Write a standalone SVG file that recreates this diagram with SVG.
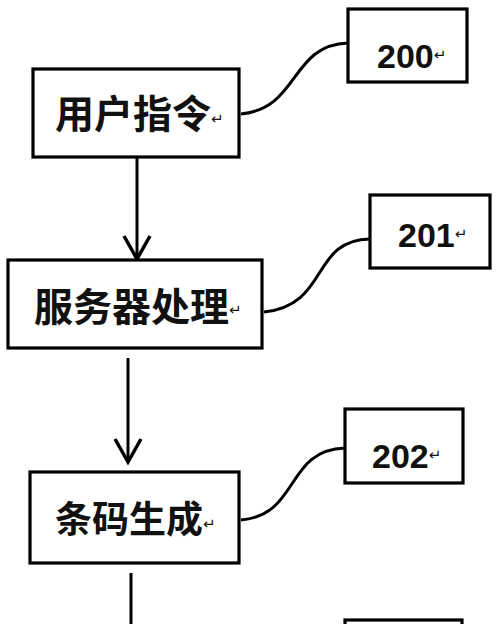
<svg xmlns="http://www.w3.org/2000/svg" width="500" height="624" viewBox="0 0 500 624">
<defs>
<style>
.box{fill:#fff;stroke:#000;stroke-width:3.2}
.cn{font-family:"Noto Sans CJK SC","Noto Sans",sans-serif;font-weight:bold;fill:#111}
.num{font-family:"Liberation Sans",Arial,sans-serif;font-weight:bold;font-size:34px;fill:#111}
.rt{font-family:"DejaVu Sans",sans-serif;font-weight:normal;font-size:15px}
.ln{fill:none;stroke:#000;stroke-width:3}
</style>
<marker id="v" markerUnits="userSpaceOnUse" viewBox="-25 -15 30 30" refX="0" refY="0" markerWidth="30" markerHeight="30" orient="auto" overflow="visible">
<path d="M-23,-13 L0,0 L-23,13" fill="none" stroke="#000" stroke-width="3.5"/>
</marker>
</defs>
<rect width="500" height="624" fill="#fff"/>
<g id="connectors">
<line class="ln" x1="137" y1="157" x2="137" y2="259" marker-end="url(#v)"/>
<line class="ln" x1="128" y1="358" x2="128" y2="462" marker-end="url(#v)"/>
<line class="ln" x1="131" y1="573" x2="131" y2="624"/>
<path class="ln" d="M241,114 C300,108 290,45 348,43"/>
<path class="ln" d="M264,312 C330,305 310,240 370,239"/>
<path class="ln" d="M241,520 C300,515 285,450 345,448"/>
</g>
<g id="n1">
<rect class="box" x="33" y="69" width="206" height="88"/>
<text class="cn" x="55" y="128" font-size="39">用户指令<tspan class="rt" dy="-4">↵</tspan></text>
</g>
<g id="n200">
<rect class="box" x="348" y="9" width="119" height="73"/>
<text class="num" x="377" y="68">200<tspan class="rt" dy="-8">↵</tspan></text>
</g>
<g id="n2">
<rect class="box" x="8" y="260" width="254" height="88"/>
<text class="cn" x="34" y="321" font-size="39">服务器处理<tspan class="rt" dy="-6">↵</tspan></text>
</g>
<g id="n201">
<rect class="box" x="370" y="195" width="120" height="73"/>
<text class="num" x="398" y="247">201<tspan class="rt" dy="-8">↵</tspan></text>
</g>
<g id="n3">
<rect class="box" x="30" y="472" width="209" height="91"/>
<text class="cn" x="55" y="533" font-size="37">条码生成<tspan class="rt" dy="-4">↵</tspan></text>
</g>
<g id="n202">
<rect class="box" x="345" y="409" width="118" height="74"/>
<text class="num" x="372" y="468">202<tspan class="rt" dy="-8">↵</tspan></text>
</g>
<g id="n203">
<rect class="box" x="345" y="620" width="117" height="20"/>
</g>
</svg>
